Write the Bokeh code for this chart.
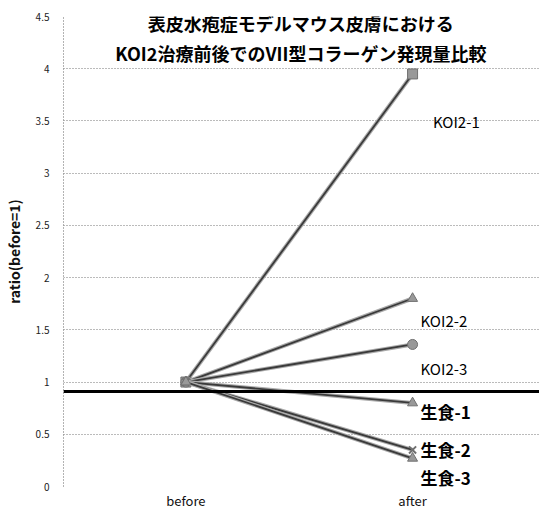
from bokeh.plotting import figure
from bokeh.models import Range1d, FixedTicker, Span
from bokeh.core.properties import value
from bokeh.embed import file_html
from bokeh.resources import INLINE

# --- data -------------------------------------------------------------
categories = ["before", "after"]
series_names = ["KOI2-1", "KOI2-2", "KOI2-3", "生食-1", "生食-2", "生食-3"]
before_vals = [1.0, 1.0, 1.0, 1.0, 1.0, 1.0]
after_vals = [3.95, 1.80, 1.36, 0.80, 0.35, 0.27]
baseline_val = 0.91
y_ticks = [0, 0.5, 1, 1.5, 2, 2.5, 3, 3.5, 4, 4.5]
title_lines = ["表皮水疱症モデルマウス皮膚における", "KOI2治療前後でのVII型コラーゲン発現量比較"]

# --- styling ----------------------------------------------------------
FONT = "Noto Sans CJK JP"
markers = ["square", "triangle", "circle", "triangle", "x", "triangle"]
# label anchor (x in category units, y in value units)
label_pos = [(1.09, 3.49), (1.035, 1.59), (1.035, 1.13),
             (1.035, 0.72), (1.035, 0.355), (1.035, 0.09)]
label_size = ["15px", "15px", "15px", "17px", "17px", "17px"]
label_weight = ["normal", "normal", "normal", "bold", "bold", "bold"]

p = figure(width=539, height=515, output_backend="svg", toolbar_location=None,
           x_range=Range1d(-0.54, 1.56), y_range=Range1d(0, 4.5),
           min_border_left=62, min_border_right=0, min_border_top=16,
           min_border_bottom=29)
p.outline_line_color = None
p.background_fill_color = "white"

# axes
p.xaxis.ticker = FixedTicker(ticks=list(range(len(categories))))
p.xaxis.major_label_overrides = {i: c for i, c in enumerate(categories)}
p.xaxis.axis_line_color = None
p.xaxis.major_tick_line_color = None
p.xaxis.minor_tick_line_color = None
p.xaxis.major_tick_out = 0
p.xaxis.major_label_text_font = FONT
p.xaxis.major_label_text_font_size = "13px"
p.xaxis.major_label_text_color = "#111111"
p.xaxis.major_label_standoff = 4

p.yaxis.ticker = FixedTicker(ticks=y_ticks)
p.yaxis.axis_line_color = "#666666"
p.yaxis.axis_line_dash = "1 2"
p.yaxis.major_tick_line_color = None
p.yaxis.minor_tick_line_color = None
p.yaxis.major_label_text_font = FONT
p.yaxis.major_label_text_font_size = "10px"
p.yaxis.major_label_text_color = "#222222"
p.yaxis.major_label_standoff = 8
p.yaxis.axis_label = "ratio(before=1)"
p.yaxis.axis_label_text_font = FONT
p.yaxis.axis_label_text_font_style = "bold"
p.yaxis.axis_label_text_font_size = "14px"
p.yaxis.axis_label_text_color = "#111111"
p.yaxis.axis_label_standoff = 9

p.xgrid.grid_line_color = None
p.ygrid.grid_line_color = "#777777"
p.ygrid.grid_line_dash = "1 2"
p.ygrid.grid_line_width = 1

# reference line
p.add_layout(Span(location=baseline_val, dimension="width",
                  line_color="black", line_width=3))

# series: before -> after
xs = list(range(len(categories)))
for i, name in enumerate(series_names):
    ys = [before_vals[i], after_vals[i]]
    p.line(xs, ys, line_color="#aaaaaa", line_width=4)
    p.line(xs, ys, line_color="#3a3a3a", line_width=1.8)
    p.scatter(xs, ys, marker=markers[i], size=10, fill_color="#999999",
              line_color="#707070", line_width=2 if markers[i] == "x" else 1)
    lx, ly = label_pos[i]
    p.text(x=[lx], y=[ly], text=[name], text_font=value(FONT),
           text_font_size=label_size[i], text_font_style=label_weight[i],
           text_baseline="middle", text_align="left", text_color="#000000")

# title inside the frame
p.text(x=[0.507, 0.507], y=[4.44, 4.155], text=title_lines,
       text_font=value(FONT), text_font_size="18px", text_font_style="bold",
       text_align="center", text_baseline="middle", text_color="#000000")

open("out.html", "w").write(file_html(p, INLINE))
